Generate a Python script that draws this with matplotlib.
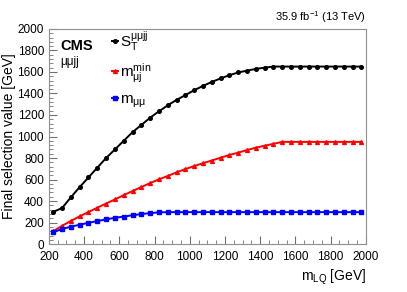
import numpy as np
import matplotlib
matplotlib.use("Agg")
from matplotlib import pyplot as plt
from matplotlib.ticker import MultipleLocator

plt.rcParams['font.family'] = ['Liberation Sans', 'DejaVu Sans']
plt.rcParams['mathtext.fontset'] = 'custom'
plt.rcParams['mathtext.rm'] = 'Liberation Sans'
plt.rcParams['mathtext.it'] = 'Liberation Sans'

# LQ mass points (bin centres)
m_lq = [225 + 50 * i for i in range(36)]

st_mumujj = [300, 335, 435, 530, 620, 710, 800, 880, 960, 1040, 1107, 1175,
             1234, 1290, 1340, 1385, 1430, 1470, 1507, 1540, 1570, 1595, 1612,
             1628, 1640, 1650, 1650, 1650, 1650, 1650, 1650, 1650, 1650, 1650,
             1650, 1650]
m_muj_min = [120, 170, 215, 258, 298, 338, 377, 415, 455, 493, 530, 567, 602,
             633, 667, 697, 725, 752, 777, 803, 828, 850, 874, 896, 914, 932,
             950, 950, 950, 950, 950, 950, 950, 950, 950, 950]
m_mumu = [110, 140, 162, 180, 198, 214, 230, 244, 256, 268, 279, 288, 295,
          297, 297, 297, 297, 297, 297, 297, 297, 297, 297, 297, 297, 297,
          297, 297, 297, 297, 297, 297, 297, 297, 297, 297]

fig = plt.figure(figsize=(4.07, 2.92), dpi=100)
ax = fig.add_axes([0.120, 0.164, 0.779, 0.737])

l1, = ax.plot(m_lq, st_mumujj, color='black', marker='o', ms=2.6, lw=1.4)
l2, = ax.plot(m_lq, m_muj_min, color='red', marker='^', ms=2.8, lw=1.4)
l3, = ax.plot(m_lq, m_mumu, color='blue', marker='s', ms=2.5, lw=1.4)

ax.set_xlim(200, 2000)
ax.set_ylim(0, 2000)
ax.xaxis.set_major_locator(MultipleLocator(200))
ax.xaxis.set_minor_locator(MultipleLocator(50))
ax.yaxis.set_major_locator(MultipleLocator(200))
ax.yaxis.set_minor_locator(MultipleLocator(40))
ax.tick_params(which='both', direction='in', colors='#707070',
               labelcolor='black', labelsize=8.5)
ax.tick_params(axis='x', pad=5)
ax.tick_params(which='major', length=6)
ax.tick_params(which='minor', length=3)
for s in ax.spines.values():
    s.set_color('#909090')

ax.set_ylabel('Final selection value [GeV]', fontsize=10, labelpad=2)
ax.yaxis.set_label_coords(-0.105, 0.5)
ax.set_xlabel(r'm$_{\rm LQ}$ [GeV]', fontsize=10, loc='right', labelpad=3)

fig.text(0.899, 0.915, r'35.9 fb$^{-1}$ (13 TeV)', ha='right', va='bottom',
         fontsize=8)
ax.text(0.035, 0.955, 'CMS', transform=ax.transAxes, fontsize=10.5,
        fontweight='bold', va='top')
ax.text(0.035, 0.875, r'μμjj', transform=ax.transAxes, fontsize=8.5, va='top')

ax.legend([l1, l2, l3],
          [r'S$_{\rm T}^{\mu\mu{\rm jj}}$', r'm$_{\mu{\rm j}}^{\rm min}$',
           r'm$_{\mu\mu}$'],
          loc='upper left', bbox_to_anchor=(0.155, 1.06), frameon=False,
          fontsize=11, handlelength=0.4, handletextpad=0.15,
          labelspacing=0.5)

fig.savefig('out.png', dpi=100)
